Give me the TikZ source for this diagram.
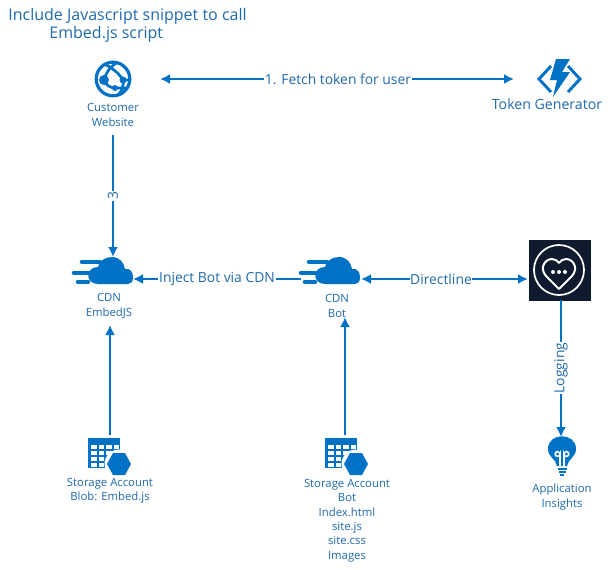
\documentclass[tikz,border=0pt]{standalone}
\usepackage{fontspec}
\setmainfont{Open Sans}
\usetikzlibrary{arrows.meta}
\definecolor{az}{HTML}{0072C6}
\definecolor{txt}{HTML}{1F6AAD}
\definecolor{navy}{HTML}{0F1A2E}
\tikzset{
 x=0.75pt,y=-0.75pt,
 conn/.style={draw=az,line width=1.5pt,-{Latex[length=7.5pt,width=7.5pt]}},
 connb/.style={draw=az,line width=1.5pt,{Latex[length=7.5pt,width=7.5pt]}-{Latex[length=7.5pt,width=7.5pt]}},
 lab/.style={text=txt,font=\fontsize{8.5pt}{10.75pt}\selectfont,align=center,inner sep=0pt},
 biglab/.style={text=txt,font=\fontsize{10.6pt}{13pt}\selectfont,align=center,inner sep=0pt},
 toplab/.style={text=txt,font=\fontsize{12pt}{14pt}\selectfont,align=left,inner sep=0pt},
 edgelab/.style={text=txt,font=\fontsize{10.4pt}{12pt}\selectfont,fill=white,inner sep=0.5pt},
 slot/.style={inner sep=0pt,minimum width=#1,minimum height=#1},
 cdnicon/.pic={
  \fill[az] (-12,11) .. controls (-25,11) and (-25,-6) .. (-12,-6)
    .. controls (-11,-12) and (-5,-16) .. (2,-16) .. controls (10,-16) and (14,-10) .. (15,-4)
    .. controls (20,-5) and (23,-1) .. (23,4) .. controls (23,9) and (21,11) .. (18,11) -- cycle;
  \draw[az,line width=3.4pt,line cap=round] (-28,-11) -- (-10,-11) (-36,0) -- (-22,0) (-32,9) -- (-22,9);
 },
 storeicon/.pic={
  \fill[az] (-16,-16) -- (16,-16) -- (16,14) -- (-16,14) -- cycle;
  \foreach \yy in {-9,-3,3,9}{\foreach \xx in {-13,-5.5,2,9.5}{\fill[white] (\xx,\yy) rectangle +(5.5,4);}}
  \fill[white] (15,10) circle (14.5);
  \fill[az] (3,10) -- (9,-1) -- (21,-1) -- (27,10) -- (21,21) -- (9,21) -- cycle;
 }
}
\begin{document}
\begin{tikzpicture}
\useasboundingbox (0,0) rectangle (615,569);
\fill[white] (0,0) rectangle (615,569);

% slots for icons
\node[slot=40*0.75pt] (web) at (113,79) {};
\node[slot=40*0.75pt] (tok) at (559,79) {};
\node[slot=60*0.75pt,inner sep=0pt] (cdnjs) at (110,272) {};
\node[slot=60*0.75pt] (cdnbot) at (337,272) {};
\node[slot=62*0.75pt] (bot) at (560,270) {};
\node (stjs) [slot=34*0.75pt] at (108,452) {};
\node (stbot) [slot=34*0.75pt] at (345,452) {};
\node (ai) [slot=30*0.75pt] at (562,455) {};
\coordinate (a) at (160,79); \coordinate (b) at (514,79);
\coordinate (c) at (113,135); \coordinate (d) at (113,257);
\coordinate (e) at (301,279); \coordinate (f) at (133,279);
\coordinate (g) at (361,279); \coordinate (h) at (528,279);
\coordinate (i) at (110,435); \coordinate (j) at (110,325);
\coordinate (k) at (345,435); \coordinate (l) at (345,317);
\coordinate (m) at (561,300); \coordinate (n) at (561,437);

% globe
\begin{scope}[shift={(113,79)}]
 \draw[az,line width=2.4pt] (0,0) circle (16.8);
 \begin{scope}
 \clip (0,0) circle (17);
 \draw[az,line width=2pt] (-9,1) .. controls (-7,-7) and (-2,-13) .. (5,-17);
 \draw[az,line width=2pt] (-9,-15) .. controls (-2,-12) and (6,-6) .. (10,1) -- (17,1);
 \draw[az,line width=2pt] (10,1) .. controls (11,6) and (9,12) .. (5,16);
 \draw[az,line width=2pt] (-9,1) .. controls (-8,6) and (-2,9) .. (2,9) -- (15,9);
 \end{scope}
 \fill[az] (-9,1) circle (5) (10,1) circle (3.5) (2,9) circle (3);
\end{scope}

% token generator
\begin{scope}[shift={(559,79)}]
 \draw[az,line width=2.2pt] (-8,-13) -- (-20,0) -- (-8,13) (9,-13) -- (21,0) -- (9,13);
 \fill[az] (-3,-20) -- (11,-20) -- (3,-7) -- (11,-7) -- (-6,18) -- (-2,1) -- (-9,1) -- cycle;
\end{scope}

% cdn
\path (110,273) pic {cdnicon};
\path (337,273) pic {cdnicon};

% bot square
\fill[navy] (529,240) rectangle (591,301);
\begin{scope}[shift={(559,270)}]
 \draw[white,line width=1.3pt] (0,0) circle (25);
 \draw[white,line width=1.5pt,line join=round] (0,19) -- (-13,6) .. controls (-20,-2) and (-14,-11) .. (-7,-11) .. controls (-4,-11) and (-1,-9) .. (0,-7) .. controls (1,-9) and (4,-11) .. (7,-11) .. controls (14,-11) and (20,-2) .. (13,6) -- cycle;
 \fill[white] (-6,2) circle (2) (0,2) circle (2) (6,2) circle (2);
\end{scope}

% storage
\path (104,454) pic {storeicon};
\path (341,454) pic {storeicon};

% bulb
\begin{scope}[shift={(562,450)}]
 \fill[az] (-5,16) .. controls (-6,9) and (-14,7) .. (-14,-1) .. controls (-14,-18) and (14,-18) .. (14,-1) .. controls (14,7) and (6,9) .. (5,16) -- cycle;
 \draw[white,line width=1.2pt] (-2,16) -- (-2,4) arc (0:340:2.4) (2,16) -- (2,4) arc (180:-160:2.4);
 \draw[az,line width=1.4pt] (-4.5,19) -- (4.5,19);
 \draw[az,line width=1.4pt] (-3.5,22) -- (3.5,22);
 \draw[az,line width=1.2pt] (-2,25) -- (2,25);
\end{scope}

% connectors
\draw[connb] (a) -- (b);
\draw[conn] (c) -- (d);
\draw[conn] (e) -- (f);
\draw[connb] (g) -- (h);
\draw[conn] (i) -- (j);
\draw[conn] (k) -- (l);
\draw[conn] (m) -- (n);

% connector labels
\node[edgelab] at (338,79) {1. Fetch token for user};
\node[edgelab,rotate=90,inner sep=1pt] at (113,196) {3};
\node[edgelab] at (217,279) {Inject Bot via CDN};
\node[edgelab] at (441,279) {Directline};
\node[edgelab,rotate=90] at (561,368) {Logging};

% node labels
\node[toplab] at (127.5,25.5) {Include Javascript snippet to call\\\hspace*{30.75pt}Embed.js script};
\node[lab] at (113,115) {Customer\\Website};
\node[biglab] at (547,104) {Token Generator};
\node[lab] at (109,306) {CDN\\EmbedJS};
\node[lab] at (337,306) {CDN\\Bot};
\node[lab] at (110,491) {Storage Account\\Blob: Embed.js};
\node[lab,anchor=north] at (347,479) {Storage Account\\Bot\\Index.html\\site.js\\site.css\\Images};
\node[lab] at (562,497) {Application\\Insights};
\end{tikzpicture}
\end{document}
